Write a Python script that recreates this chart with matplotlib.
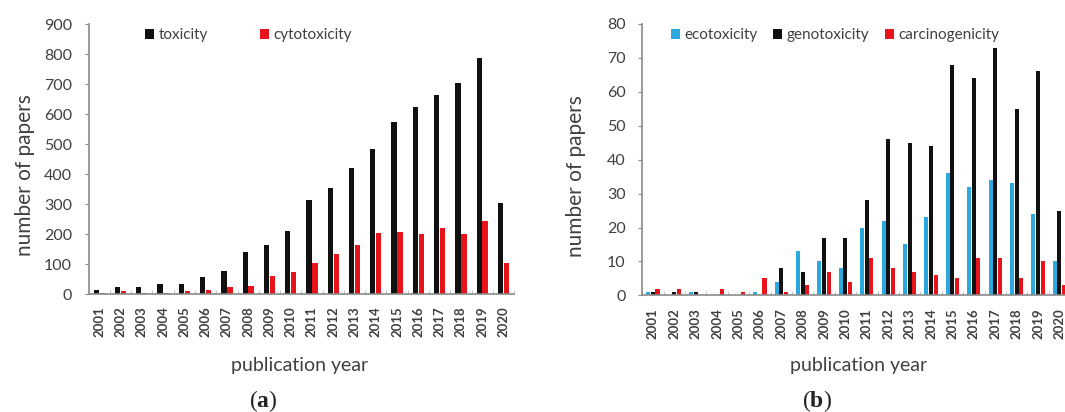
import matplotlib
matplotlib.use("Agg")
import matplotlib.pyplot as plt
from matplotlib.ticker import FixedLocator
import numpy as np

plt.rcParams['font.family'] = ['Lato', 'DejaVu Sans']
plt.rcParams['mathtext.fontset'] = 'custom'
plt.rcParams['mathtext.rm'] = 'Liberation Serif'
plt.rcParams['mathtext.bf'] = 'Liberation Serif:bold'

years = [str(y) for y in range(2001, 2021)]

# panel (a)
toxicity = [15, 25, 22, 33, 35, 57, 78, 140, 165, 210, 315, 355, 420, 482, 575, 625, 665, 705, 788, 305]
cytotoxicity = [5, 10, 3, 5, 10, 15, 25, 28, 60, 75, 103, 133, 163, 205, 207, 200, 220, 200, 245, 105]

# panel (b)
ecotoxicity = [1, 0, 1, 0, 0, 1, 4, 13, 10, 8, 20, 22, 15, 23, 36, 32, 34, 33, 24, 10]
genotoxicity = [1, 1, 1, 0, 0, 0, 8, 7, 17, 17, 28, 46, 45, 44, 68, 64, 73, 55, 66, 25]
carcinogenicity = [2, 2, 0, 2, 1, 5, 1, 3, 7, 4, 11, 8, 7, 6, 5, 11, 11, 5, 10, 3]

BLACK = '#111111'
RED = '#e8141c'
BLUE = '#29a9e0'
TXT = '#404040'
AXC = '#8a8a8a'

fig = plt.figure(figsize=(10.65, 4.12), dpi=100)
ax1 = fig.add_axes([0.0832, 0.2864, 0.3995, 0.6553])
ax2 = fig.add_axes([0.6030, 0.2830, 0.4018, 0.6590])

x = np.arange(len(years))


def style(ax, ymax, step):
    ax.set_xlim(-0.5, len(years) - 0.5)
    ax.set_ylim(0, ymax)
    ax.set_yticks(np.arange(0, ymax + 1, step))
    ax.set_xticks(x)
    ax.set_xticklabels(years, rotation=90, fontsize=9.5, color=TXT, fontweight='bold')
    ax.xaxis.set_minor_locator(FixedLocator(np.arange(-0.5, len(years), 1)))
    ax.tick_params(axis='x', which='major', length=0, pad=9)
    ax.tick_params(axis='x', which='minor', length=3, direction='in', color='#bbbbbb')
    ax.tick_params(axis='y', length=3, color=AXC, labelsize=11.5, labelcolor=TXT, pad=9)
    for s in ['top', 'right']:
        ax.spines[s].set_visible(False)
    for s in ['left', 'bottom']:
        ax.spines[s].set_color(AXC)
        ax.spines[s].set_linewidth(1.2)
    ax.set_ylabel('number of papers', fontsize=15, color=TXT)


ax1.bar(x - 0.14, toxicity, width=0.25, color=BLACK, label='toxicity')
ax1.bar(x + 0.14, cytotoxicity, width=0.25, color=RED, label='cytotoxicity')
style(ax1, 900, 100)
ax1.yaxis.set_label_coords(-0.125, 0.44)
ax1.legend(loc='upper left', bbox_to_anchor=(0.10, 1.035), ncol=2, frameon=False,
           fontsize=11, handlelength=0.6, handleheight=0.6, handletextpad=0.3,
           columnspacing=3.4, labelcolor=TXT)

ax2.bar(x - 0.215, ecotoxicity, width=0.19, color=BLUE, label='ecotoxicity')
ax2.bar(x, genotoxicity, width=0.19, color=BLACK, label='genotoxicity')
ax2.bar(x + 0.215, carcinogenicity, width=0.19, color=RED, label='carcinogenicity')
style(ax2, 80, 10)
ax2.yaxis.set_label_coords(-0.131, 0.44)
ax2.legend(loc='upper left', bbox_to_anchor=(0.035, 1.035), ncol=3, frameon=False,
           fontsize=11, handlelength=0.6, handleheight=0.6, handletextpad=0.3,
           columnspacing=1.0, labelcolor=TXT)

fig.text(300 / 1065, 1 - 366 / 412, 'publication year', fontsize=14, color=TXT,
         ha='center', va='center')
fig.text(859 / 1065, 1 - 366 / 412, 'publication year', fontsize=14, color=TXT,
         ha='center', va='center')
fig.text(263 / 1065, 1 - 401 / 412, r'(${\bf a}$)', fontsize=17, color='#222222',
         family='Liberation Serif', ha='center', va='center')
fig.text(817 / 1065, 1 - 401 / 412, r'(${\bf b}$)', fontsize=17, color='#222222',
         family='Liberation Serif', ha='center', va='center')

fig.savefig('out.png', dpi=100)
